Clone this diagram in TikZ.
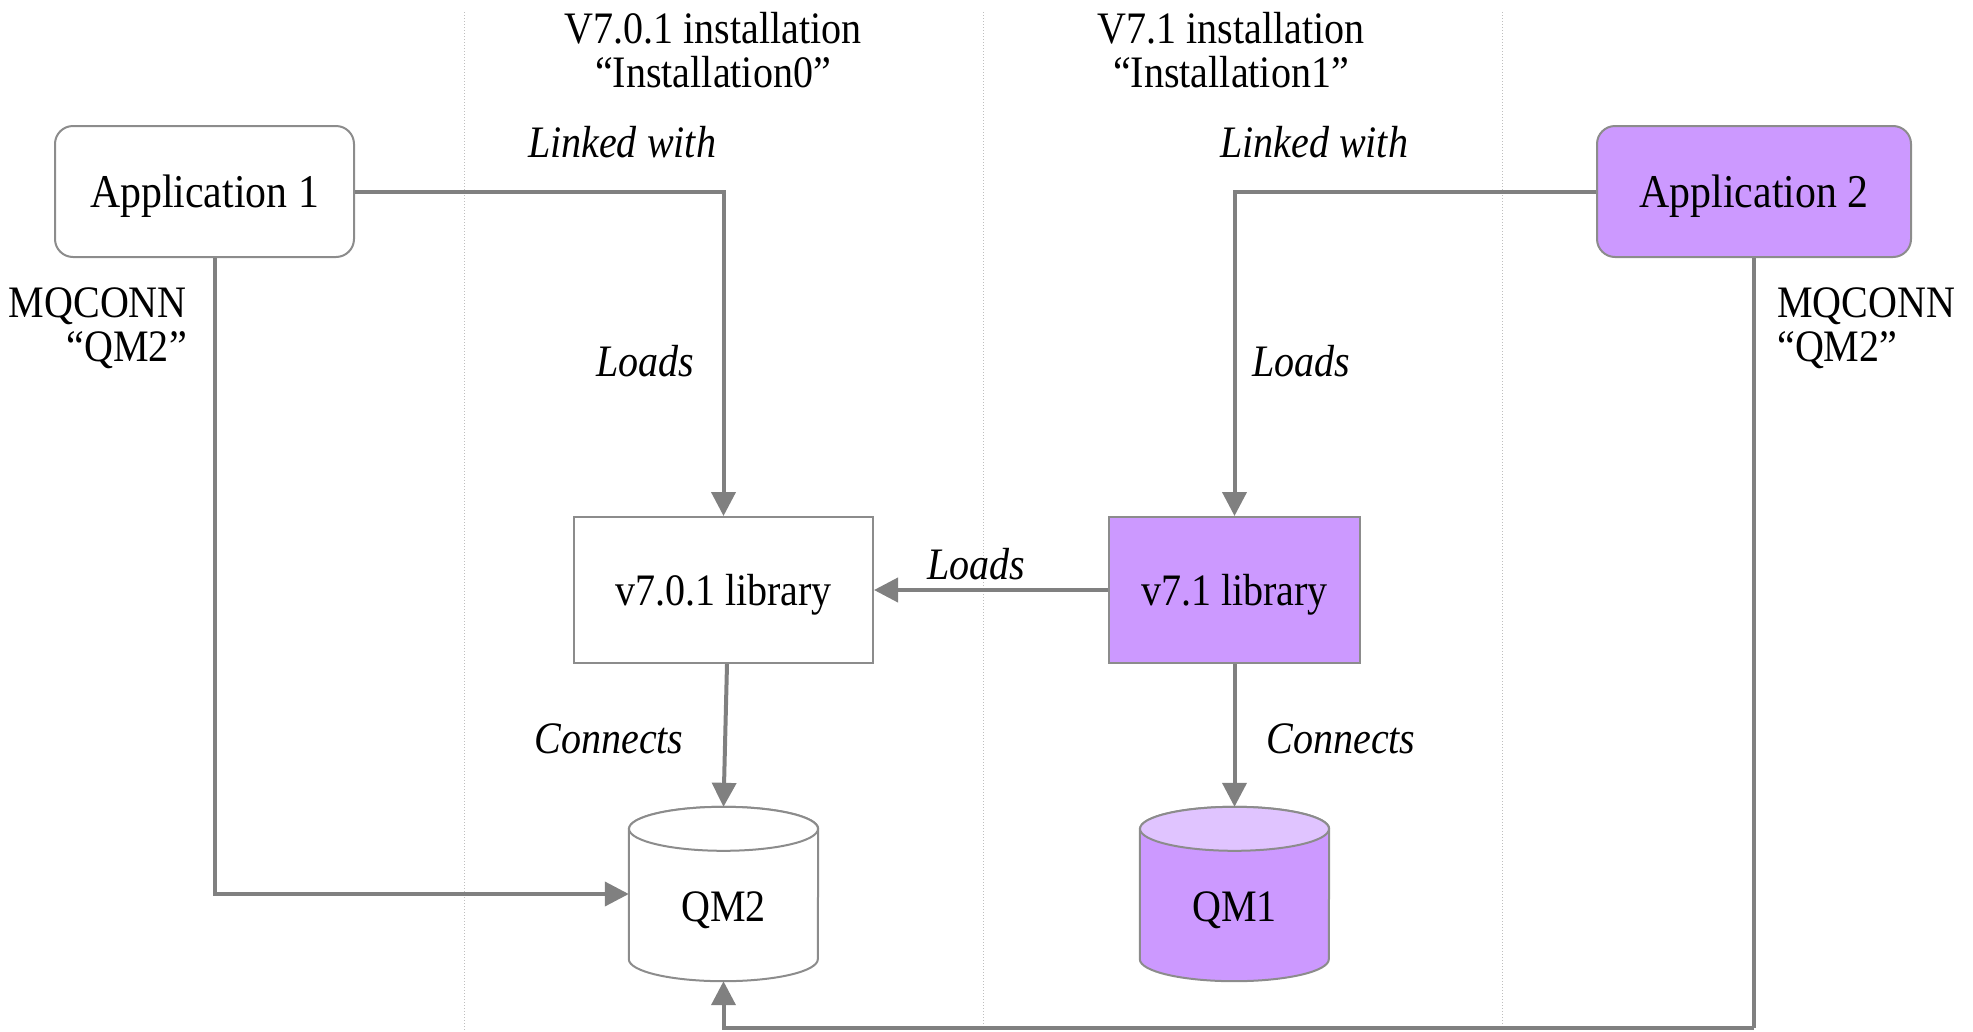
\documentclass[tikz,border=0pt]{standalone}
\usepackage{fontspec}
\setmainfont{Liberation Serif}[FakeStretch=0.89]
\usetikzlibrary{arrows.meta,calc}

\definecolor{edgegray}{RGB}{128,128,128}
\definecolor{boxline}{RGB}{140,140,140}
\definecolor{violet1}{RGB}{204,153,255}
\definecolor{violettop}{RGB}{224,196,255}
\definecolor{divgray}{RGB}{190,190,190}

\tikzset{
  txt/.style={font=\fontsize{45}{44}\selectfont},
  lbl/.style={font=\fontsize{45}{44}\selectfont\itshape, inner sep=0pt},
  appbox/.style={draw=boxline, line width=2pt, rounded corners=18pt,
    font=\fontsize{47}{46}\selectfont, inner sep=0pt, text depth=0pt},
  libbox/.style={draw=boxline, line width=2pt, txt, inner sep=0pt, text depth=0pt},
  cylbox/.style={inner sep=0pt, minimum width=189pt, minimum height=174pt},
  cylline/.style={draw=boxline, line width=2pt},
  conn/.style={draw=edgegray, line width=4pt,
    -{Triangle[length=24pt,width=24pt]}},
  plain/.style={draw=edgegray, line width=4pt},
  divider/.style={draw=divgray, line width=1pt, dotted}
}

\begin{document}
\begin{tikzpicture}[x=1pt,y=-1pt]
\useasboundingbox (0,0) rectangle (1973,1031);

% column dividers
\draw[divider] (464,12) -- (464,1031);
\draw[divider] (983,12) -- (983,1031);
\draw[divider] (1502,12) -- (1502,1031);

% column titles
\node[txt, align=center] (t0) at (713,50) {V7.0.1 installation\\“Installation0”};
\node[txt, align=center] (t1) at (1231,50) {V7.1 installation\\“Installation1”};

% applications
\node[appbox, minimum width=299pt, minimum height=131pt] (app1) at (204.5,191.5) {Application 1};
\node[appbox, fill=violet1, minimum width=314pt, minimum height=131pt] (app2) at (1754,191.5) {Application 2};

% libraries
\node[libbox, minimum width=299pt, minimum height=146pt] (lib0) at (723.5,590) {v7.0.1 library};
\node[libbox, fill=violet1, minimum width=251pt, minimum height=146pt] (lib1) at (1234.5,590) {v7.1 library};

% queue managers (cylinders)
\node[cylbox] (qm2) at (723.5,894) {};
\node[cylbox] (qm1) at (1234.5,894) {};

% QM2 cylinder
\path[cylline, fill=white]
  (qm2.north west) ++(0,22) -- ($(qm2.south west)+(0,-22)$)
  arc[start angle=180, end angle=360, x radius=94.5pt, y radius=22pt]
  -- ($(qm2.north east)+(0,22)$)
  arc[start angle=0, end angle=180, x radius=94.5pt, y radius=22pt] -- cycle;
\path[cylline, fill=white] ($(qm2.north)+(0,22)$) ellipse[x radius=94.5pt, y radius=22pt];

% QM1 cylinder
\path[cylline, fill=violet1]
  (qm1.north west) ++(0,22) -- ($(qm1.south west)+(0,-22)$)
  arc[start angle=180, end angle=360, x radius=94.5pt, y radius=22pt]
  -- ($(qm1.north east)+(0,22)$)
  arc[start angle=0, end angle=180, x radius=94.5pt, y radius=22pt] -- cycle;
\path[cylline, fill=violettop] ($(qm1.north)+(0,22)$) ellipse[x radius=94.5pt, y radius=22pt];

\node[txt, inner sep=0pt, text depth=0pt] (qm2t) at ($(qm2.center)+(0,13)$) {QM2};
\node[txt, inner sep=0pt, text depth=0pt] (qm1t) at ($(qm1.center)+(0,13)$) {QM1};

% connectors
\draw[conn] (app1.east) -| (lib0.north);
\draw[conn] (app2.west) -| (lib1.north);
\draw[conn] ([xshift=10pt]app1.south) |- (qm2.west);
\coordinate (turn) at (1754,1028);
\draw[plain] (app2.south) -- (turn);
\draw[conn] (turn) -| (qm2.south);
\draw[conn] (lib1.west) -- (lib0.east);
\draw[conn] ([xshift=3.5pt]lib0.south) -- (qm2.north);
\draw[conn] (lib1.south) -- (qm1.north);

% connector labels
\node[lbl] (lw0) at (622,142) {Linked with};
\node[lbl] (lw1) at (1314,142) {Linked with};
\node[lbl] (ld0) at (645,361) {Loads};
\node[lbl] (ld1) at (1301,361) {Loads};
\node[lbl] (ld2) at (976,564) {Loads};
\node[lbl] (cn0) at (609,739) {Connects};
\node[lbl] (cn1) at (1341,739) {Connects};

% MQCONN calls
\node[txt, align=right, anchor=east, inner sep=0pt] (mq1) at (187,328) {MQCONN\\“QM2”};
\node[txt, align=left, anchor=west, inner sep=0pt] (mq2) at (1777,328) {MQCONN\\“QM2”};
\end{tikzpicture}
\end{document}
